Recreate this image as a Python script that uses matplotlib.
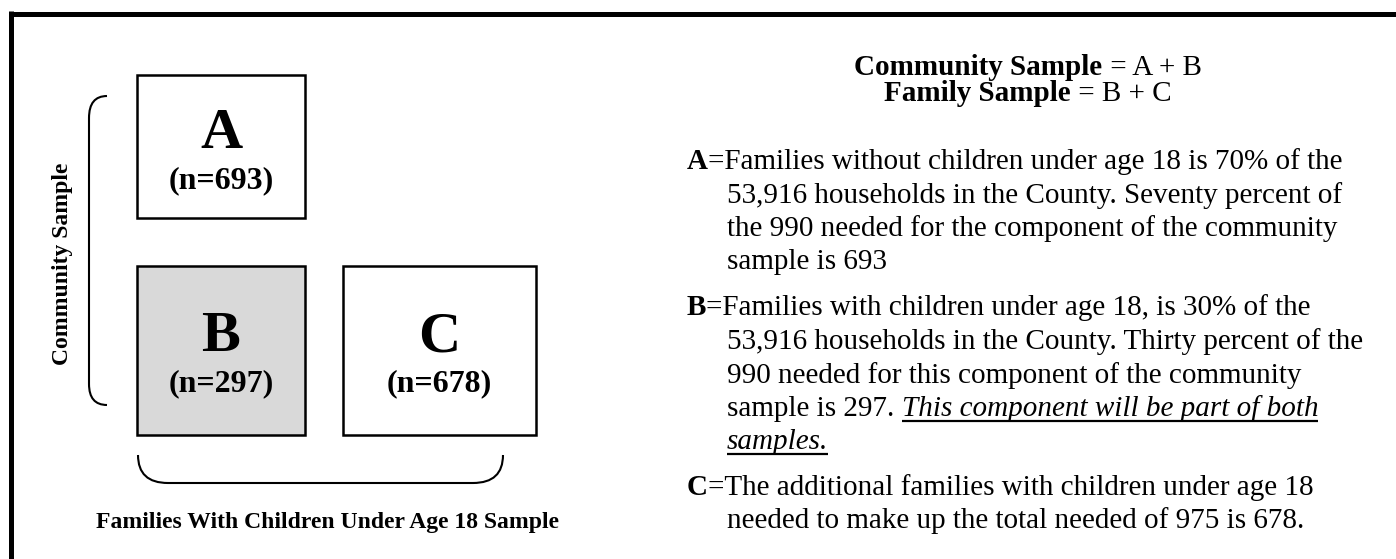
import matplotlib
matplotlib.use("Agg")
import matplotlib.pyplot as plt
from matplotlib.patches import Rectangle, PathPatch
from matplotlib.path import Path

plt.rcParams['font.family'] = ['Liberation Serif', 'DejaVu Serif']

# data
box_labels = ['A', 'B', 'C']
box_n = [693, 297, 678]
box_fill = ['white', '#d9d9d9', 'white']
box_x = [137, 137, 343]
box_y = [75, 266, 266]
box_w = [168, 168, 193]
box_h = [143, 169, 169]

side_label = 'Community Sample'
bottom_label = 'Families With Children Under Age 18 Sample'

header_lines = [('Community Sample', ' = A + B'), ('Family Sample', ' = B + C')]

para_A = ['=Families without children under age 18 is 70% of the',
          '53,916 households in the County. Seventy percent of',
          'the 990 needed for the component of the community',
          'sample is 693']
para_B = ['=Families with children under age 18, is 30% of the',
          '53,916 households in the County. Thirty percent of the',
          '990 needed for this component of the community',
          'sample is 297. ']
para_B_italic = ['This component will be part of both', 'samples.']
para_C = ['=The additional families with children under age 18',
          'needed to make up the total needed of 975 is 678.']

W, H = 1396, 559
fig = plt.figure(figsize=(W / 100, H / 100), dpi=100)
ax = fig.add_axes([0, 0, 1, 1])
ax.set_xlim(0, W)
ax.set_ylim(H, 0)
ax.axis('off')
renderer = fig.canvas.get_renderer()

BODY = 21


def width_of(t):
    return t.get_window_extent(renderer).width


def runs(x, y, parts, size=BODY):
    # parts: list of (text, weight, style, underline)
    for txt, weight, style, under in parts:
        t = ax.text(x, y, txt, fontsize=size, fontweight=weight,
                    fontstyle=style, va='baseline', ha='left')
        w = width_of(t)
        if under:
            ax.plot([x, x + w], [y + 5, y + 5], color='black', lw=1.6,
                    solid_capstyle='butt')
        x += w
    return x


# page border (only top and left are visible)
ax.plot([10.5, W], [13.5, 13.5], color='black', lw=3.6, solid_capstyle='butt')
ax.plot([10.5, 10.5], [11, H], color='black', lw=3.6, solid_capstyle='butt')

# boxes
for lab, n, fc, x, y, w, h in zip(box_labels, box_n, box_fill, box_x, box_y, box_w, box_h):
    ax.add_patch(Rectangle((x, y), w, h, facecolor=fc, edgecolor='black', lw=1.8))
    cx = x + w / 2
    base = y + 73 if lab == 'A' else y + 85
    ax.text(cx, base, lab, fontsize=42, fontweight='bold', ha='center', va='baseline')
    ax.text(cx, base + 40, '(n=%d)' % n, fontsize=23, fontweight='bold',
            ha='center', va='baseline')

# braces
left = Path([(107, 96), (89, 96), (89, 118), (89, 384), (89, 405), (107, 405)],
            [Path.MOVETO, Path.CURVE3, Path.CURVE3, Path.LINETO, Path.CURVE3, Path.CURVE3])
ax.add_patch(PathPatch(left, facecolor='none', edgecolor='black', lw=1.5))
bottom = Path([(138, 455), (138, 483), (168, 483), (473, 483), (503, 483), (503, 455)],
              [Path.MOVETO, Path.CURVE3, Path.CURVE3, Path.LINETO, Path.CURVE3, Path.CURVE3])
ax.add_patch(PathPatch(bottom, facecolor='none', edgecolor='black', lw=1.5))

ax.text(68, 264, side_label, fontsize=17, fontweight='bold', rotation=90,
        ha='center', va='baseline', rotation_mode='anchor')
ax.text(328, 528, bottom_label, fontsize=17, fontweight='bold', ha='center', va='baseline')

# headers, centred
hy = [75, 101]
for (b, r), y in zip(header_lines, hy):
    tb = ax.text(0, y, b, fontsize=BODY, fontweight='bold', va='baseline')
    tr = ax.text(0, y, r, fontsize=BODY, va='baseline')
    wb, wr = width_of(tb), width_of(tr)
    x0 = 1028 - (wb + wr) / 2
    tb.set_x(x0)
    tr.set_x(x0 + wb)

# paragraphs
LX, IX = 687, 727
ys_A = [169, 203, 236, 269]
ys_B = [315, 349, 383, 416, 449]
ys_C = [495, 528]

runs(LX, ys_A[0], [('A', 'bold', 'normal', False), (para_A[0], 'normal', 'normal', False)])
for line, y in zip(para_A[1:], ys_A[1:]):
    runs(IX, y, [(line, 'normal', 'normal', False)])

runs(LX, ys_B[0], [('B', 'bold', 'normal', False), (para_B[0], 'normal', 'normal', False)])
runs(IX, ys_B[1], [(para_B[1], 'normal', 'normal', False)])
runs(IX, ys_B[2], [(para_B[2], 'normal', 'normal', False)])
runs(IX, ys_B[3], [(para_B[3], 'normal', 'normal', False),
                   (para_B_italic[0], 'normal', 'italic', True)])
runs(IX, ys_B[4], [(para_B_italic[1], 'normal', 'italic', True)])

runs(LX, ys_C[0], [('C', 'bold', 'normal', False), (para_C[0], 'normal', 'normal', False)])
runs(IX, ys_C[1], [(para_C[1], 'normal', 'normal', False)])

fig.savefig('out.png', dpi=100, facecolor='white')
